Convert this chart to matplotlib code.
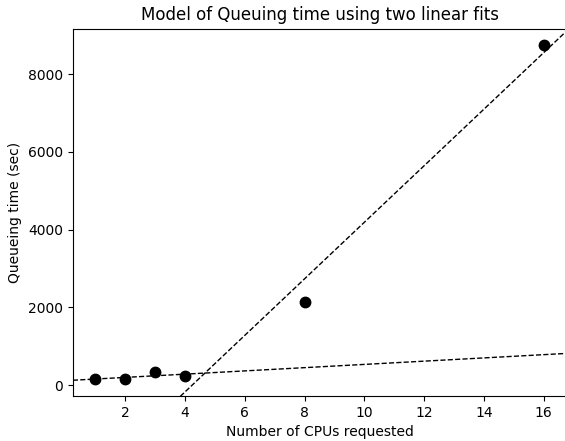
import numpy as np
import matplotlib
matplotlib.use("Agg")
import matplotlib.pyplot as plt

# measured points
cpus = np.array([1, 2, 3, 4, 8, 16])
queue_time = np.array([147, 155, 342, 224, 2130, 8754])

# two regimes for the fits
low_mask = cpus <= 4
high_mask = cpus >= 4

fig = plt.figure(figsize=(5.65, 4.41), dpi=100)
ax = fig.add_axes([0.129, 0.102, 0.873, 0.833])

ax.plot(cpus, queue_time, 'ko', markersize=7.5)

xlim = (0.25, 16.75)
xs = np.array(xlim)
# %% linear fits
p_low = np.polyfit(cpus[low_mask], queue_time[low_mask], 1)
p_high = np.polyfit(cpus[high_mask], queue_time[high_mask], 1)
ax.plot(xs, np.polyval(p_low, xs), 'k--', lw=1)
ax.plot(xs, np.polyval(p_high, xs), 'k--', lw=1)

ax.set_xlim(*xlim)
ax.set_ylim(-283, 9170)
ax.set_xticks([2, 4, 6, 8, 10, 12, 14, 16])
ax.set_yticks([0, 2000, 4000, 6000, 8000])
ax.set_xlabel('Number of CPUs requested')
ax.set_ylabel('Queueing time (sec)')
ax.set_title('Model of Queuing time using two linear fits')

fig.savefig('out.png', dpi=100)
